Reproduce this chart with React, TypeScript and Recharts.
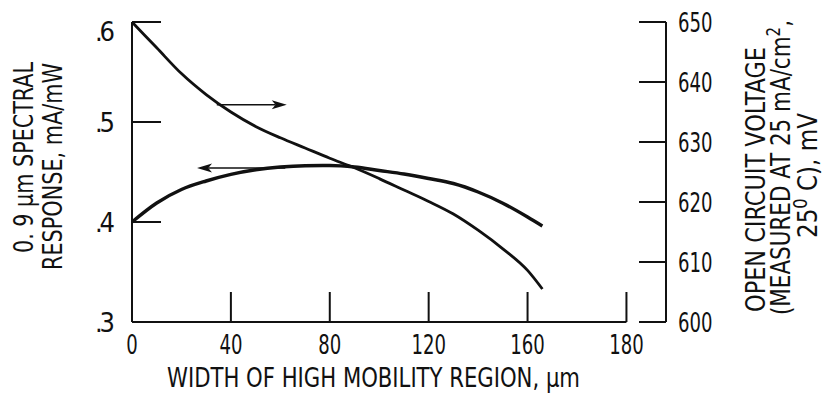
import React from 'react';
import { LineChart, Line, XAxis, YAxis, ReferenceLine, Label } from 'recharts';

// ---- data ----
const WIDTH_UM = [0, 10, 20, 30, 40, 50, 60, 70, 80, 90, 100, 110, 120, 130, 140, 150, 160, 166];
const SPECTRAL_RESPONSE = [0.4, 0.419, 0.4325, 0.441, 0.4476, 0.4522, 0.455, 0.4563, 0.4565, 0.455, 0.4515, 0.448, 0.4435, 0.4385, 0.43, 0.4188, 0.405, 0.396];
const OPEN_CIRCUIT_VOLTAGE = [650, 645.7, 641.4, 637.9, 635.0, 632.6, 630.7, 629.0, 627.3, 625.7, 623.9, 622.0, 620.1, 618.0, 615.3, 612.2, 608.6, 605.5];

const X_TICKS = [0, 40, 80, 120, 160, 200];
const X_TICK_LABELS = ['0', '40', '80', '120', '160', '180'];
const LEFT_TICKS = [0.3, 0.4, 0.5, 0.6];
const LEFT_TICK_LABELS = ['.3', '.4', '.5', '.6'];
const RIGHT_TICKS = [600, 610, 620, 630, 640, 650];
const RIGHT_TICK_LABELS = ['600', '610', '620', '630', '640', '650'];

const RIGHT_ARROW = [{ x: 34.3, y: 636.2 }, { x: 62.6, y: 636.2 }];
const LEFT_ARROW = [{ x: 62, y: 0.454 }, { x: 26.3, y: 0.454 }];
const X_AXIS_LINE = [{ x: 0, y: 0.3 }, { x: 200, y: 0.3 }];

const data = WIDTH_UM.map((x, i) => ({ x, sr: SPECTRAL_RESPONSE[i], voc: OPEN_CIRCUIT_VOLTAGE[i] }));

// ---- styles ----
const FONT = "'Liberation Sans Narrow', 'DejaVu Sans Condensed', 'Roboto', sans-serif";
const INK = '#111';
const X_MARGIN = 13;
const L_MARGIN = 17;
const R_MARGIN = 12;
const TICK_FS = 27;
const DIGIT_W = 11.5;

const XTick = (props: any) => {
  const { x, y, payload } = props;
  const idx = X_TICKS.indexOf(payload.value);
  const axisY = y - X_MARGIN;
  const label = X_TICK_LABELS[idx];
  return (
    <g>
      <line x1={x} x2={x} y1={axisY} y2={axisY - 30} stroke={INK} strokeWidth={2} />
      <text x={x} y={y} dy="0.72em" textAnchor="middle" fontFamily={FONT} fontSize={TICK_FS} fill={INK}
        textLength={label.length * DIGIT_W} lengthAdjust="spacingAndGlyphs">
        {label}
      </text>
    </g>
  );
};

const LeftTick = (props: any) => {
  const { x, y, payload } = props;
  const idx = LEFT_TICKS.indexOf(payload.value);
  const axisX = x + L_MARGIN;
  const dy = payload.value === 0.6 ? 9 : 0;
  return (
    <g>
      <line x1={axisX} x2={axisX + 29} y1={y} y2={y} stroke={INK} strokeWidth={2} />
      <text x={x} y={y + dy} textAnchor="end" dominantBaseline="central" fontFamily={FONT} fontSize={TICK_FS} fill={INK}
        textLength={20} lengthAdjust="spacing">
        {LEFT_TICK_LABELS[idx]}
      </text>
    </g>
  );
};

const RightTick = (props: any) => {
  const { x, y, payload } = props;
  const idx = RIGHT_TICKS.indexOf(payload.value);
  const axisX = x - R_MARGIN;
  const label = RIGHT_TICK_LABELS[idx];
  return (
    <g>
      <line x1={axisX} x2={axisX - 27} y1={y} y2={y} stroke={INK} strokeWidth={2} />
      <text x={x} y={y} textAnchor="start" dominantBaseline="central" fontFamily={FONT} fontSize={TICK_FS} fill={INK}
        textLength={label.length * DIGIT_W} lengthAdjust="spacingAndGlyphs">
        {label}
      </text>
    </g>
  );
};

const arrowShape = (p: any) => {
  const { x1, y1, x2, y2 } = p;
  const ang = Math.atan2(y2 - y1, x2 - x1);
  const len = 15;
  const half = 4.5;
  const bx = x2 - len * Math.cos(ang);
  const by = y2 - len * Math.sin(ang);
  const nx = -Math.sin(ang) * half;
  const ny = Math.cos(ang) * half;
  const mx = x2 - (len * 0.75) * Math.cos(ang);
  const my = y2 - (len * 0.75) * Math.sin(ang);
  return (
    <g>
      <line x1={x1} y1={y1} x2={mx} y2={my} stroke={INK} strokeWidth={1.6} />
      <polygon points={`${x2},${y2} ${bx + nx},${by + ny} ${mx},${my} ${bx - nx},${by - ny}`} fill={INK} />
    </g>
  );
};

const rot = (x: number, y: number) => `rotate(-90, ${x}, ${y})`;

const LeftTitle = () => (
  <g fontFamily={FONT} fontSize={27} fill={INK}>
    <text x={33} y={157.5} transform={rot(33, 157.5)} textAnchor="middle" textLength={191} lengthAdjust="spacingAndGlyphs">
      0. 9 µm SPECTRAL
    </text>
    <text x={62} y={166.5} transform={rot(62, 166.5)} textAnchor="middle" textLength={207} lengthAdjust="spacingAndGlyphs">
      RESPONSE,  mA/mW
    </text>
  </g>
);

const RightTitle = () => (
  <g fontFamily={FONT} fontSize={27} fill={INK}>
    <text x={765} y={179.5} transform={rot(765, 179.5)} textAnchor="middle" textLength={265} lengthAdjust="spacingAndGlyphs">
      OPEN CIRCUIT VOLTAGE
    </text>
    <text x={790} y={167.5} transform={rot(790, 167.5)} textAnchor="middle" textLength={295} lengthAdjust="spacingAndGlyphs">
      <tspan>(MEASURED AT 25 mA/cm</tspan>
      <tspan dy={-10} fontSize={19}>2</tspan>
      <tspan dy={10}>,</tspan>
    </text>
    <text x={817} y={175.5} transform={rot(817, 175.5)} textAnchor="middle" textLength={125} lengthAdjust="spacingAndGlyphs">
      <tspan>25</tspan>
      <tspan dy={-10} fontSize={19}>0</tspan>
      <tspan dy={10}> C),  mV</tspan>
    </text>
  </g>
);

const XTitle = () => (
  <text x={373.5} y={387} textAnchor="middle" fontFamily={FONT} fontSize={27} fill={INK} textLength={413} lengthAdjust="spacingAndGlyphs">
    WIDTH OF HIGH MOBILITY REGION, µm
  </text>
);

export default function App() {
  return (
    <div style={{ position: 'absolute', left: 0, top: 0, width: 830, height: 400, background: '#fff' }}>
      <LineChart width={830} height={400} data={data} margin={{ top: 22, right: 0, bottom: 0, left: 0 }}>
        <XAxis
          dataKey="x"
          type="number"
          domain={[0, 216]}
          ticks={X_TICKS}
          interval={0}
          axisLine={false}
          tickLine={false}
          tickSize={0}
          tickMargin={X_MARGIN}
          tick={<XTick />}
          height={78}
        >
          <Label content={<XTitle />} />
        </XAxis>
        <YAxis
          yAxisId="sr"
          orientation="left"
          width={132}
          domain={[0.3, 0.6]}
          ticks={LEFT_TICKS}
          interval={0}
          axisLine={{ stroke: INK, strokeWidth: 2 }}
          tickLine={false}
          tickSize={0}
          tickMargin={L_MARGIN}
          tick={<LeftTick />}
        >
          <Label content={<LeftTitle />} />
        </YAxis>
        <YAxis
          yAxisId="voc"
          orientation="right"
          width={164}
          domain={[600, 650]}
          ticks={RIGHT_TICKS}
          interval={0}
          axisLine={{ stroke: INK, strokeWidth: 2 }}
          tickLine={false}
          tickSize={0}
          tickMargin={R_MARGIN}
          tick={<RightTick />}
        >
          <Label content={<RightTitle />} />
        </YAxis>
        <ReferenceLine yAxisId="sr" segment={X_AXIS_LINE} stroke={INK} strokeWidth={2} />
        <ReferenceLine yAxisId="voc" segment={RIGHT_ARROW} shape={arrowShape} />
        <ReferenceLine yAxisId="sr" segment={LEFT_ARROW} shape={arrowShape} />
        <Line yAxisId="sr" dataKey="sr" type="monotone" stroke={INK} strokeWidth={3.4} dot={false} isAnimationActive={false} />
        <Line yAxisId="voc" dataKey="voc" type="monotone" stroke={INK} strokeWidth={2.8} dot={false} isAnimationActive={false} />
      </LineChart>
    </div>
  );
}
